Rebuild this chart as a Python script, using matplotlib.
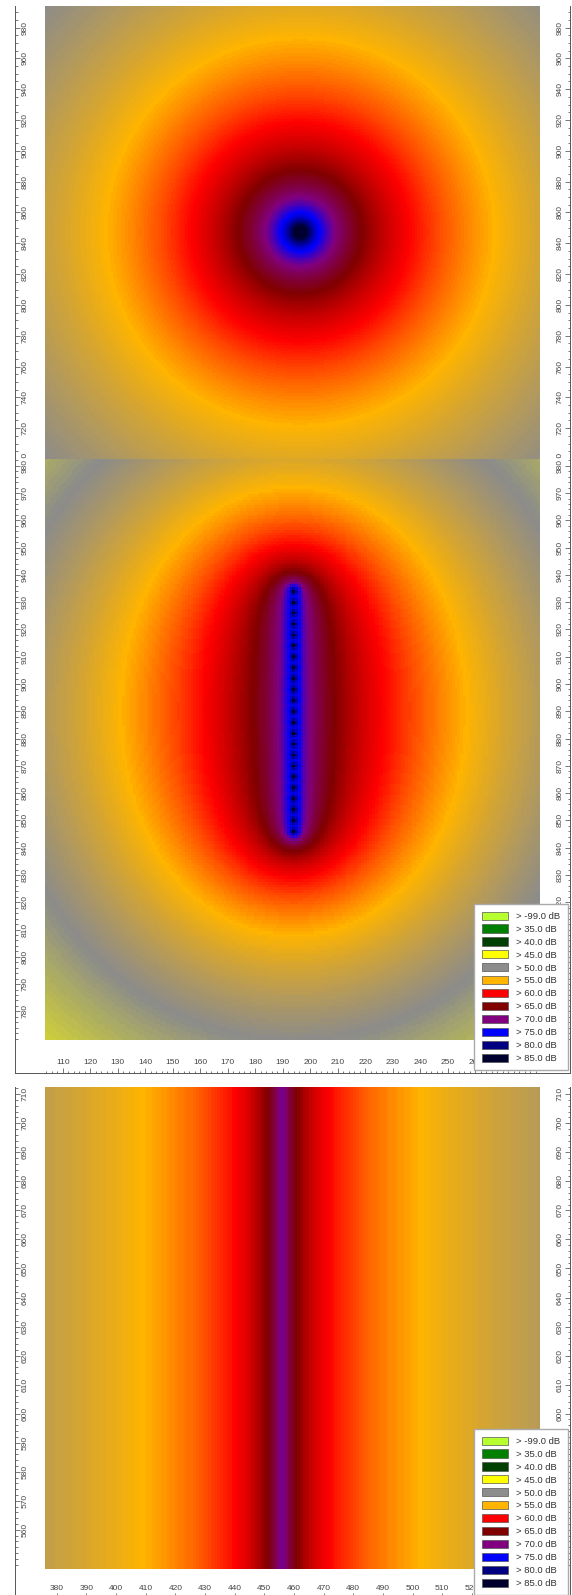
import numpy as np
import matplotlib.pyplot as plt
from matplotlib.colors import LinearSegmentedColormap, Normalize
from matplotlib.patches import Patch
from matplotlib.ticker import FixedLocator
from matplotlib.transforms import Bbox, TransformedBbox

# 配置字体
plt.rcParams["font.family"] = ["Liberation Sans", "DejaVu Sans"]

# 图例分级（dB）与颜色
levels = [-99.0, 35.0, 40.0, 45.0, 50.0, 55.0, 60.0, 65.0, 70.0, 75.0, 80.0, 85.0]
levelColors = ["#b8ff30", "#008000", "#004000", "#ffff00", "#8c8c8c", "#ffb400",
               "#ff0000", "#800000", "#800080", "#0000ff", "#000080", "#00002e"]
levelLabels = ["> %.1f dB" % v for v in levels]

# 图1：单个点声源（60 dB 圈半径约 71 m）
pointX = [194.0]
pointY = [847.0]
pointRef = (71.0, 60.0)
pointAbs = 0.0
pointExtX = (28.5, 349.5)
pointExtY = (700.0, 994.0)
pointYMajor = [700, 720, 740, 760, 780, 800, 820, 840, 860, 880, 900, 920, 940, 960, 980]

# 图2：一排点声源（60 dB 距离约 33 m）
lineY = [846.0, 850.0, 854.0, 858.0, 862.0, 866.0, 870.0, 874.0, 878.0, 882.0, 886.0, 890.0,
         894.0, 898.0, 902.0, 906.0, 910.0, 914.0, 918.0, 922.0, 926.0, 930.0, 934.0]
lineX = [194.0] * len(lineY)
lineRef = (33.0, 60.0)
lineAbs = 0.015
lineExtX = (103.5, 283.5)
lineExtY = (769.5, 982.5)
# 被图例遮住的 270、280 不标注
lineXMajor = [110, 120, 130, 140, 150, 160, 170, 180, 190, 200, 210, 220, 230, 240, 250, 260]
lineYMajor = [780, 790, 800, 810, 820, 830, 840, 850, 860, 870, 880, 890, 900, 910, 920, 930, 940,
              950, 960, 970, 980]

# 图3：道路（线声源，60 dB 距离约 16 m）
roadX = 456.0
roadRef = (16.0, 60.0)
roadAbs = 0.01
roadExtX = (376.0, 543.0)
roadExtY = (546.5, 712.5)
# 被图例遮住的 530、540 不标注
roadXMajor = [380, 390, 400, 410, 420, 430, 440, 450, 460, 470, 480, 490, 500, 510, 520]
roadYMajor = [560, 570, 580, 590, 600, 610, 620, 630, 640, 650, 660, 670, 680, 690, 700, 710]


def pointSourcesDb(gx, gy, xs, ys, ref, alpha):
    def energy(px, py):
        e = 0.0
        for sx, sy in zip(xs, ys):
            r = np.sqrt((px - sx) ** 2 + (py - sy) ** 2 + 0.25)
            e = e + 10 ** (-alpha * r / 10) / r ** 2
        return e
    refE = energy(np.mean(xs) + ref[0], np.mean(ys))
    return 10 * np.log10(energy(gx, gy)) + ref[1] - 10 * np.log10(refE)


def roadDb(gx, ref, alpha):
    def level(px):
        d = np.sqrt((px - roadX) ** 2 + 1.5 ** 2)
        return -10 * np.log10(d) - alpha * d
    return level(gx) + ref[1] - level(roadX + ref[0])


def grid(extX, extY):
    gx = np.arange(extX[0] + 0.5, extX[1], 1.0)
    gy = np.arange(extY[0] + 0.5, extY[1], 1.0)
    return np.meshgrid(gx, gy)


# 连续色带：35 ~ 85 dB
cmapPos = [(v - 35.0) / 50.0 for v in levels[1:]]
cmap = LinearSegmentedColormap.from_list("noise", list(zip(cmapPos, levelColors[1:])))
norm = Normalize(vmin=35.0, vmax=85.0)

W, H = 572, 1595
fig = plt.figure(figsize=(W / 100, H / 100), dpi=100)


def addPanel(imgPx, framePx, extX, extY):
    l, t, r, b = imgPx
    fl, ft, fr, fb = framePx
    sx = (r - l) / (extX[1] - extX[0])
    sy = (b - t) / (extY[1] - extY[0])
    ax = fig.add_axes([fl / W, 1 - fb / H, (fr - fl) / W, (fb - ft) / H])
    ax.set_xlim(extX[0] - (l - fl) / sx, extX[1] + (fr - r) / sx)
    ax.set_ylim(extY[0] - (fb - b) / sy, extY[1] + (t - ft) / sy)
    ax.spines["top"].set_visible(False)
    for s in ax.spines.values():
        s.set_color("#555555")
        s.set_linewidth(0.7)
    return ax


def styleY(ax, major, minor, hideRightBelow=None):
    ax.yaxis.set_major_locator(FixedLocator(major))
    ax.yaxis.set_minor_locator(FixedLocator(minor))
    ax.tick_params(axis="y", which="both", direction="in", left=True, right=True,
                   labelleft=True, labelright=True, labelrotation=90, pad=-7.2,
                   labelsize=6, colors="#444444")
    ax.tick_params(axis="y", which="major", length=3.6, width=0.5)
    ax.tick_params(axis="y", which="minor", length=1.8, width=0.5)
    for lab in ax.get_yticklabels():
        lab.set_horizontalalignment("center")
        lab.set_verticalalignment("center")
    # 右侧被图例盖住的标注不画
    if hideRightBelow is not None:
        for tick, loc in zip(ax.yaxis.get_major_ticks(), major):
            if loc < hideRightBelow:
                tick.label2.set_visible(False)


def styleX(ax, major, minor):
    ax.xaxis.set_major_locator(FixedLocator(major))
    ax.xaxis.set_minor_locator(FixedLocator(minor))
    ax.tick_params(axis="x", which="both", direction="in", bottom=True, top=False,
                   labelbottom=True, pad=-7.2, labelsize=6, colors="#444444")
    ax.tick_params(axis="x", which="major", length=3.6, width=0.5)
    ax.tick_params(axis="x", which="minor", length=1.8, width=0.5)
    for lab in ax.get_xticklabels():
        lab.set_verticalalignment("center")


def addLegend(topPx):
    handles = [Patch(facecolor=c, edgecolor="#555555", linewidth=0.5) for c in levelColors]
    fig.legend(handles, levelLabels, loc="upper left", bbox_to_anchor=(474 / W, 1 - topPx / H),
               frameon=True, fancybox=False, framealpha=1, edgecolor="#aaaaaa", fontsize=6.8,
               labelcolor="#333333", handlelength=2.75, handleheight=0.95, handletextpad=0.95,
               labelspacing=0.38, borderpad=0.8, borderaxespad=0)


# 图1：点声源
ax1 = addPanel((45, 6, 540, 459), (15, 6, 570, 459), pointExtX, pointExtY)
gx, gy = grid(pointExtX, pointExtY)
ax1.imshow(pointSourcesDb(gx, gy, pointX, pointY, pointRef, pointAbs), extent=(*pointExtX, *pointExtY),
           origin="lower", cmap=cmap, norm=norm, interpolation="nearest", aspect="auto")
ax1.spines["bottom"].set_visible(False)
ax1.set_xticks([])
styleY(ax1, pointYMajor, np.arange(700, 994, 5))
# 原图在面板交界处截断，700 的标注只露出一半
clipTop = TransformedBbox(Bbox([[0, 1 - 459 / H], [1, 1]]), fig.transFigure)
for lab in ax1.get_yticklabels():
    lab.set_clip_box(clipTop)
    lab.set_clip_on(True)

# 图2：一排点声源
ax2 = addPanel((45, 459, 540, 1040), (15, 459, 570, 1073), lineExtX, lineExtY)
gx, gy = grid(lineExtX, lineExtY)
ax2.imshow(pointSourcesDb(gx, gy, lineX, lineY, lineRef, lineAbs), extent=(*lineExtX, *lineExtY),
           origin="lower", cmap=cmap, norm=norm, interpolation="nearest", aspect="auto")
styleY(ax2, lineYMajor, np.arange(770, 983, 2), hideRightBelow=815)
styleX(ax2, lineXMajor, np.arange(104, 284, 2))
addLegend(904)

# 图3：道路
ax3 = addPanel((45, 1087, 540, 1569), (15, 1087, 570, 1598), roadExtX, roadExtY)
gx, gy = grid(roadExtX, roadExtY)
ax3.imshow(roadDb(gx, roadRef, roadAbs), extent=(*roadExtX, *roadExtY),
           origin="lower", cmap=cmap, norm=norm, interpolation="nearest", aspect="auto")
styleY(ax3, roadYMajor, np.arange(548, 713, 2), hideRightBelow=595)
styleX(ax3, roadXMajor, np.arange(376, 544, 2))
addLegend(1429)

fig.savefig("out.png", dpi=100)
